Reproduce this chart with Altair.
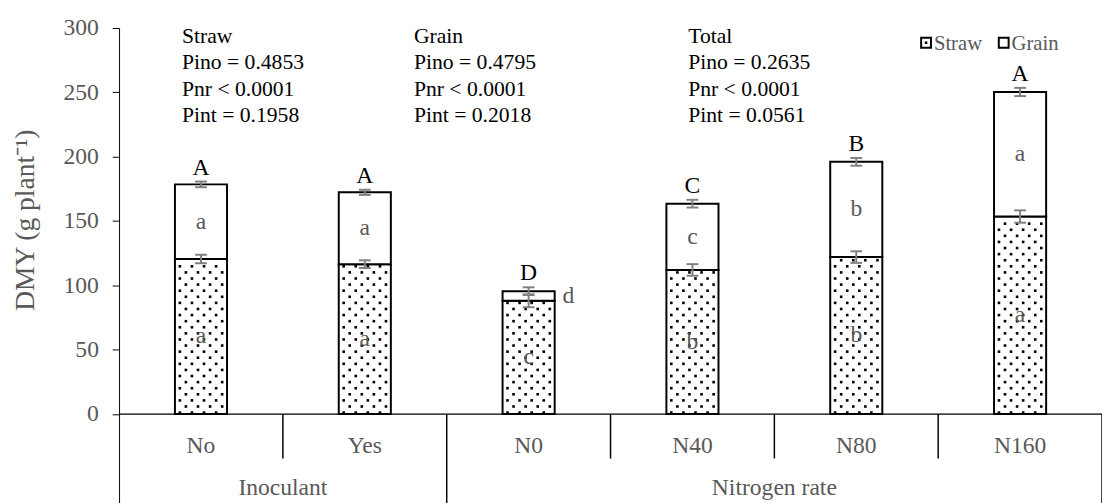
import altair as alt
import pandas as pd

# ---------------- data ----------------
categories = ["No", "Yes", "N0", "N40", "N80", "N160"]
group_of = ["Inoculant", "Inoculant", "Nitrogen rate", "Nitrogen rate", "Nitrogen rate", "Nitrogen rate"]
straw = [120.5, 116.5, 88.0, 112.0, 122.0, 153.5]
total = [178.5, 172.3, 95.5, 163.5, 196.0, 250.3]
straw_err = [3.3, 3.0, 5.0, 4.5, 4.5, 4.8]
total_err = [2.2, 2.0, 3.0, 3.0, 3.0, 3.2]
total_letters = ["A", "A", "D", "C", "B", "A"]
grain_letters = ["a", "a", "d", "c", "b", "a"]
straw_letters = ["a", "a", "c", "b", "b", "a"]
stat_titles = ["Straw", "Grain", "Total"]
p_ino = ["Pino = 0.4853", "Pino = 0.4795", "Pino = 0.2635"]
p_nr = ["Pnr < 0.0001", "Pnr < 0.0001", "Pnr < 0.0001"]
p_int = ["Pint = 0.1958", "Pint = 0.2018", "Pint = 0.0561"]
legend_labels = ["Straw", "Grain"]
y_ticks = [0, 50, 100, 150, 200, 250, 300]
y_title = "DMY (g plant\u207b\u00b9)"

# ---------------- layout constants ----------------
W, H = 1000, 487
Y_MIN, Y_MAX = -72, 300
NCAT = len(categories)
PX_CAT = W / NCAT
PX_UNIT = H / (Y_MAX - Y_MIN)
HALF_BAR = 26.5 / PX_CAT
CAP = 6 / PX_CAT
FONT = "Liberation Serif, Times New Roman, serif"
GRAY = "#595959"
EGRAY = "#808080"


def ypx(px):  # pixel offset from plot top -> data value
    return Y_MAX - px / PX_UNIT


df = pd.DataFrame({
    "i": list(range(NCAT)), "cat": categories, "group": group_of,
    "straw": straw, "total": total, "serr": straw_err, "terr": total_err,
    "TL": total_letters, "GL": grain_letters, "SL": straw_letters,
})

xs = alt.Scale(domain=[0, NCAT], nice=False, zero=False)
ys = alt.Scale(domain=[Y_MIN, Y_MAX], nice=False, zero=False)

base = alt.Chart(df).transform_calculate(
    c="datum.i + 0.5",
    left=f"datum.i + 0.5 - {HALF_BAR}",
    right=f"datum.i + 0.5 + {HALF_BAR}",
    zero="0",
    gmid="(datum.straw + datum.total) / 2",
    smid="datum.straw / 2",
    ttop="datum.total + datum.terr",
    gx=f"(datum.total - datum.straw < 15) ? datum.i + 0.5 + {HALF_BAR} + {14 / PX_CAT} : datum.i + 0.5",
)

yaxis = alt.Axis(
    values=y_ticks, grid=False, tickColor="black", domainColor="black",
    tickSize=7, labelFont=FONT, labelFontSize=24, labelColor=GRAY, labelPadding=14,
    title=y_title, titleFont=FONT, titleFontSize=28, titleColor=GRAY,
    titleFontWeight="normal", titleX=-95, titleY=195, titleBaseline="middle",
    titleAlign="center",
)

straw_rect = base.mark_rect(fill="white", stroke="black", strokeWidth=2).encode(
    x=alt.X("left:Q", scale=xs, axis=None), x2="right:Q",
    y=alt.Y("zero:Q", scale=ys, axis=yaxis), y2="straw:Q",
)

# dotted fill texture: lattice of pattern cells for every bar
ROW = 6.2 / PX_UNIT
tex_rows = []
for k in range(NCAT):
    for rr in range(int(straw[k] / ROW) + 1):
        for cc in range(5):
            tex_rows.append({"i": k, "rr": rr, "cc": cc, "straw": straw[k]})
tdf = pd.DataFrame(tex_rows)
dots = alt.Chart(tdf).transform_calculate(
    dxp="5 + 12.3 * datum.cc + (datum.rr % 2) * 6.15",
    dyv=f"{1.5 / PX_UNIT} + datum.rr * {ROW}",
).transform_filter(
    f"datum.dxp < 50.5 && datum.dyv < datum.straw - {2 / PX_UNIT}"
).transform_calculate(
    dotx=f"datum.i + 0.5 - {HALF_BAR} + datum.dxp / {PX_CAT}"
).mark_square(size=7, color="black", opacity=1, filled=True).encode(
    x=alt.X("dotx:Q", scale=xs, axis=None),
    y=alt.Y("dyv:Q", scale=ys),
)

grain_rect = base.mark_rect(fill="white", stroke="black", strokeWidth=2).encode(
    x=alt.X("left:Q", scale=xs, axis=None), x2="right:Q",
    y=alt.Y("straw:Q", scale=ys), y2="total:Q",
)

# error bars table
err_rows = []
for k in range(NCAT):
    err_rows.append({"i": k, "v": straw[k], "e": straw_err[k]})
    err_rows.append({"i": k, "v": total[k], "e": total_err[k]})
edf = pd.DataFrame(err_rows)
ebase = alt.Chart(edf).transform_calculate(
    c="datum.i + 0.5", lo="datum.v - datum.e", hi="datum.v + datum.e",
    cl=f"datum.i + 0.5 - {CAP}", cr=f"datum.i + 0.5 + {CAP}",
)
evert = ebase.mark_rule(color=EGRAY, strokeWidth=2).encode(
    x=alt.X("c:Q", scale=xs, axis=None), y=alt.Y("lo:Q", scale=ys), y2="hi:Q")
ecap_lo = ebase.mark_rule(color=EGRAY, strokeWidth=2).encode(
    x=alt.X("cl:Q", scale=xs, axis=None), x2="cr:Q", y=alt.Y("lo:Q", scale=ys))
ecap_hi = ebase.mark_rule(color=EGRAY, strokeWidth=2).encode(
    x=alt.X("cl:Q", scale=xs, axis=None), x2="cr:Q", y=alt.Y("hi:Q", scale=ys))

tl = base.mark_text(font=FONT, fontSize=24, color="black", baseline="bottom", dy=-2).encode(
    x=alt.X("c:Q", scale=xs, axis=None), y=alt.Y("ttop:Q", scale=ys), text="TL:N")
gl = base.mark_text(font=FONT, fontSize=24, color=GRAY, baseline="middle").encode(
    x=alt.X("gx:Q", scale=xs, axis=None), y=alt.Y("gmid:Q", scale=ys), text="GL:N")
sl = base.mark_text(font=FONT, fontSize=24, color=GRAY, baseline="middle").encode(
    x=alt.X("c:Q", scale=xs, axis=None), y=alt.Y("smid:Q", scale=ys), text="SL:N")

# x axis line
xl_df = pd.DataFrame({"x0": [0], "x1": [NCAT], "y0": [0]})
xline = alt.Chart(xl_df).mark_rule(color="black", strokeWidth=1.2).encode(
    x=alt.X("x0:Q", scale=xs, axis=None), x2="x1:Q", y=alt.Y("y0:Q", scale=ys))

# separators
sep_rows = []
for k in range(1, NCAT + 1):
    long_ = k == NCAT or group_of[k] != group_of[k - 1]
    sep_rows.append({"b": k, "z": 0, "bot": Y_MIN if long_ else ypx(462 - 24)})
sdf = pd.DataFrame(sep_rows)
seps = alt.Chart(sdf).mark_rule(color="black", strokeWidth=1.5).encode(
    x=alt.X("b:Q", scale=xs, axis=None), y=alt.Y("z:Q", scale=ys), y2="bot:Q")

catlab = base.transform_calculate(ly=str(ypx(449 - 24))).mark_text(
    font=FONT, fontSize=24, color=GRAY, baseline="middle").encode(
    x=alt.X("c:Q", scale=xs, axis=None), y=alt.Y("ly:Q", scale=ys), text="cat:N")

grp_rows = []
for g in dict.fromkeys(group_of):
    idx = [k for k, gg in enumerate(group_of) if gg == g]
    grp_rows.append({"g": g, "gc": (idx[0] + idx[-1] + 1) / 2, "ly": ypx(499 - 24)})
gdf = pd.DataFrame(grp_rows)
grplab = alt.Chart(gdf).mark_text(
    font=FONT, fontSize=24, color=GRAY, baseline="alphabetic").encode(
    x=alt.X("gc:Q", scale=xs, axis=None), y=alt.Y("ly:Q", scale=ys), text="g:N")

# annotations
ANNOT_X_PX = [185, 421, 700]
ann_rows = []
for b in range(3):
    for l, t in enumerate([stat_titles[b], p_ino[b], p_nr[b], p_int[b]]):
        ann_rows.append({"ax": (ANNOT_X_PX[b] - 121) / PX_CAT,
                         "ay": ypx(39 - 24 + 27 * l), "t": t})
adf = pd.DataFrame(ann_rows)
ann = alt.Chart(adf).mark_text(font=FONT, fontSize=22, color="black", align="left",
                               baseline="alphabetic").encode(
    x=alt.X("ax:Q", scale=xs, axis=None), y=alt.Y("ay:Q", scale=ys), text="t:N")

# legend
LEG_SYM_PX = [942, 1021]
ldf = pd.DataFrame({
    "lab": legend_labels,
    "sx": [(p - 121) / PX_CAT for p in LEG_SYM_PX],
    "tx": [(p + 8 - 121) / PX_CAT for p in LEG_SYM_PX],
    "sy": [ypx(39 - 24)] * 2,
    "ty": [ypx(46 - 24)] * 2,
    "dot": [1, 0],
})
leg_sym = alt.Chart(ldf).mark_square(size=100, filled=False, stroke="black",
                                     strokeWidth=2, fill="white", opacity=1).encode(
    x=alt.X("sx:Q", scale=xs, axis=None), y=alt.Y("sy:Q", scale=ys))
leg_dot = alt.Chart(ldf).transform_filter("datum.dot == 1").mark_square(
    size=7, color="black", filled=True, opacity=1).encode(
    x=alt.X("sx:Q", scale=xs, axis=None), y=alt.Y("sy:Q", scale=ys))
leg_txt = alt.Chart(ldf).mark_text(font=FONT, fontSize=21, color=GRAY, align="left",
                                   baseline="alphabetic").encode(
    x=alt.X("tx:Q", scale=xs, axis=None), y=alt.Y("ty:Q", scale=ys), text="lab:N")

chart = alt.layer(
    straw_rect, dots, grain_rect, evert, ecap_lo, ecap_hi, tl, gl, sl,
    xline, seps, catlab, grplab, ann, leg_sym, leg_dot, leg_txt,
).properties(
    width=W, height=H,
    padding={"left": 113, "top": 16, "right": 0, "bottom": 0},
    autosize=alt.AutoSizeParams(type="none"),
    background="white",
).configure_view(stroke=None)

chart.save("out.html", embed_options={"renderer": "svg", "actions": False})
